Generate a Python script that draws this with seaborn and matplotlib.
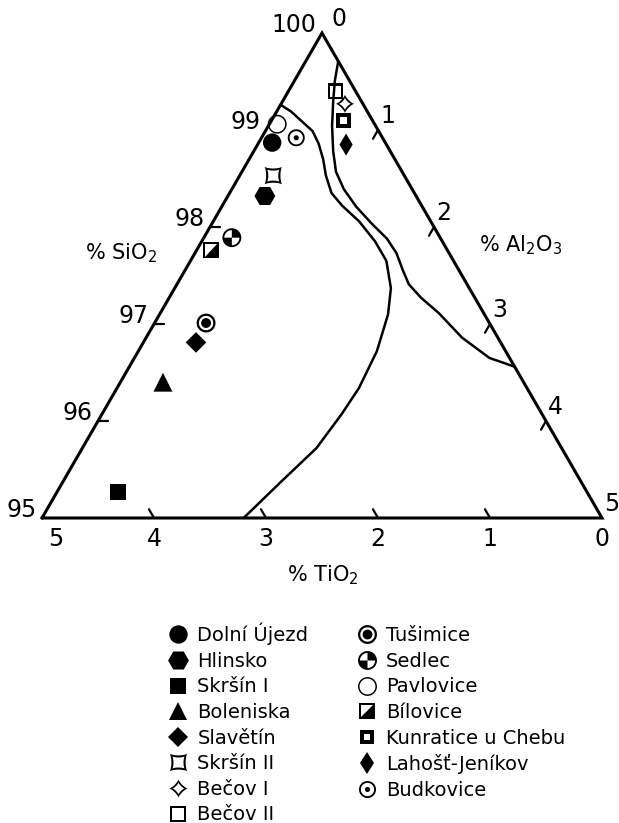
import numpy as np
import pandas as pd
import matplotlib
matplotlib.use("Agg")
from matplotlib import pyplot as plt
from matplotlib.path import Path
import seaborn as sns

# sample compositions (wt. %)
localities = ["Dolní Újezd", "Hlinsko", "Skršín I", "Boleniska", "Slavětín",
              "Skršín II", "Bečov I", "Bečov II", "Tušimice", "Sedlec",
              "Pavlovice", "Bílovice", "Kunratice u Chebu", "Lahošť-Jeníkov",
              "Budkovice"]
sio2 = [98.87, 98.32, 95.27, 96.39, 96.80, 98.53, 99.27, 99.40, 97.01, 97.89,
        99.06, 97.75, 99.09, 98.86, 98.92]
tio2 = [1.01, 1.35, 4.19, 3.22, 2.72, 1.17, 0.16, 0.18, 2.53, 1.86,
        0.87, 2.11, 0.26, 0.36, 0.77]
al2o3 = [0.12, 0.33, 0.54, 0.38, 0.47, 0.30, 0.57, 0.42, 0.46, 0.25,
         0.07, 0.13, 0.64, 0.79, 0.31]

# field boundaries (TiO2 / Al2O3 in %, SiO2 is the rest)
field_a_tio2 = [0.74, 0.68, 0.64, 0.59, 0.60, 0.64, 0.70, 0.74, 0.71, 0.64,
                0.60, 0.60, 0.70, 0.86, 1.15, 1.50, 1.79, 2.19, 2.67, 3.20]
field_a_al2o3 = [0.00, 0.13, 0.26, 0.42, 0.54, 0.66, 0.77, 0.91, 1.07, 1.30,
                 1.55, 1.75, 1.93, 2.04, 2.13, 2.16, 2.14, 2.09, 1.95, 1.80]
field_b_tio2 = [0.00, 0.13, 0.25, 0.39, 0.51, 0.59, 0.61, 0.59, 0.54, 0.48,
                0.47, 0.50, 0.52, 0.48, 0.40, 0.32, 0.18, 0.00]
field_b_al2o3 = [0.29, 0.36, 0.45, 0.57, 0.71, 0.84, 1.00, 1.20, 1.42, 1.64,
                 1.80, 1.94, 2.07, 2.25, 2.49, 2.82, 3.17, 3.44]

sio2_ticks = [100, 99, 98, 97, 96, 95]
tio2_ticks = [5, 4, 3, 2, 1, 0]
al2o3_ticks = [0, 1, 2, 3, 4, 5]

SPAN = 5.0  # the diagram shows 95-100 % SiO2


def tern(ti, al):
    """TiO2 / Al2O3 (%) -> x, y in the triangle (bottom-left = 5 % TiO2)."""
    ti = np.asarray(ti, float) / SPAN
    al = np.asarray(al, float) / SPAN
    s = 1 - ti - al
    return al + s / 2, s * np.sqrt(3) / 2


# ---- marker shapes -------------------------------------------------------
def loop(v):
    v = np.asarray(v)
    return Path(np.vstack([v, v[:1]]), closed=True)


def circle(r, rev=False):
    t = np.linspace(0, 2 * np.pi, 73)[:-1]
    if rev:
        t = t[::-1]
    return loop(np.column_stack([r * np.cos(t), r * np.sin(t)]))


def square(h, rev=False):
    v = np.array([[-h, -h], [h, -h], [h, h], [-h, h]])
    return loop(v[::-1] if rev else v)


def star(p, k, rot=0.0, rev=False):
    t = np.linspace(0, 2 * np.pi, 145)[:-1]
    if rev:
        t = t[::-1]
    x = np.sign(np.cos(t)) * np.abs(np.cos(t)) ** p * k
    y = np.sign(np.sin(t)) * np.abs(np.sin(t)) ** p * k
    c, s = np.cos(rot), np.sin(rot)
    return loop(np.column_stack([c * x - s * y, s * x + c * y]))


def wedge(r, a0, a1):
    t = np.radians(np.linspace(a0, a1, 19))
    return loop(np.vstack([[0, 0], np.column_stack([r * np.cos(t), r * np.sin(t)])]))


cp = Path.make_compound_path
markers = {
    "Dolní Újezd": "o",
    "Hlinsko": "H",
    "Skršín I": "s",
    "Boleniska": "^",
    "Slavětín": "D",
    "Skršín II": cp(star(2.6, 1.0, np.pi / 4), star(2.6, 0.7, np.pi / 4, rev=True)),
    "Bečov I": cp(star(2.6, 1.0), star(2.6, 0.66, rev=True)),
    "Bečov II": cp(square(1.0), square(0.72, rev=True)),
    "Tušimice": cp(circle(1.0), circle(0.76, rev=True), circle(0.52)),
    "Sedlec": cp(circle(1.0), circle(0.8, rev=True), wedge(0.8, 0, 90), wedge(0.8, 180, 270)),
    "Pavlovice": cp(circle(1.0), circle(0.84, rev=True)),
    "Bílovice": cp(square(1.0), square(0.8, rev=True),
                   loop([[-0.8, -0.8], [0.8, -0.8], [0.8, 0.8]])),
    "Kunratice u Chebu": cp(square(1.0), square(0.45, rev=True)),
    "Lahošť-Jeníkov": "d",
    "Budkovice": cp(circle(1.0), circle(0.78, rev=True), circle(0.3)),
}
sizes = {
    "Dolní Újezd": 175, "Hlinsko": 225, "Skršín I": 130, "Boleniska": 185,
    "Slavětín": 110, "Skršín II": 160, "Bečov I": 175, "Bečov II": 130,
    "Tušimice": 185, "Sedlec": 185, "Pavlovice": 185, "Bílovice": 130,
    "Kunratice u Chebu": 110, "Lahošť-Jeníkov": 125, "Budkovice": 150,
}
palette = {name: "black" for name in localities}

# ---- data frame ------------------------------------------------------------
px, py = tern(tio2, al2o3)
df = pd.DataFrame({"locality": localities, "x": px, "y": py,
                   "SiO2": sio2, "TiO2": tio2, "Al2O3": al2o3})

sns.set_style("white")
plt.rcParams["font.family"] = ["DejaVu Sans"]
plt.rcParams["mathtext.default"] = "regular"
plt.rcParams["text.color"] = "black"

fig = plt.figure(figsize=(6.19, 8.23), dpi=100)
ax = fig.add_axes([0, 0, 1, 1])
# 560 px per unit, triangle bottom-left at pixel (42, 518)
XLIM = (-42 / 560, (619 - 42) / 560)
YLIM = (-(823 - 518) / 560, 518 / 560)
ax.axis("off")

# frame
fx, fy = tern([5, 0, 0, 5], [0, 5, 0, 0])
ax.plot(fx, fy, color="black", lw=2.2, solid_joinstyle="miter", zorder=2)

# field boundaries
for ti, al in [(field_a_tio2, field_a_al2o3), (field_b_tio2, field_b_al2o3)]:
    cx, cy = tern(ti, al)
    ax.plot(cx, cy, color="black", lw=1.8, zorder=2)

# ticks
tl = 0.018
for v in [96, 97, 98]:
    x0, y0 = tern(100 - v, 0)
    ax.plot([x0, x0 + tl], [y0, y0], color="black", lw=1.6)
for v in [4, 3, 2, 1]:
    x0, y0 = tern(v, SPAN - v)
    ax.plot([x0, x0 - tl * 0.5], [y0, y0 + tl * 0.866], color="black", lw=1.6)
for v in [1, 2, 3, 4]:
    x0, y0 = tern(0, v)
    ax.plot([x0, x0 - tl * 0.5], [y0, y0 - tl * 0.866], color="black", lw=1.6)

# tick labels
tick_fs = 17
for v in sio2_ticks:
    x0, y0 = tern(100 - v, 0)
    ax.annotate(str(v), (x0, y0), xytext=(-4, 6), textcoords="offset points",
                ha="right", va="center", fontsize=tick_fs)
for v in al2o3_ticks:
    x0, y0 = tern(0, v)
    dx = 12 if v == 0 else 7
    ax.annotate(str(v), (x0, y0), xytext=(dx, 10), textcoords="offset points",
                ha="center", va="center", fontsize=tick_fs)
for v in tio2_ticks:
    x0, y0 = tern(v, SPAN - v)
    dx = 10 if v == 5 else 0
    ax.annotate(str(v), (x0, y0), xytext=(dx, -15), textcoords="offset points",
                ha="center", va="center", fontsize=tick_fs)

# axis titles
ax.text(0.141, 0.473, "% SiO$_2$", ha="center", va="center", fontsize=15)
ax.text(0.855, 0.488, "% Al$_2$O$_3$", ha="center", va="center", fontsize=15)
ax.text(0.502, -0.102, "% TiO$_2$", ha="center", va="center", fontsize=15)

# samples
sns.scatterplot(data=df, x="x", y="y", hue="locality", style="locality",
                size="locality", palette=palette, markers=markers, sizes=sizes,
                hue_order=localities, style_order=localities, size_order=localities,
                linewidth=0, edgecolor="none", zorder=3, legend="full", ax=ax)

sns.move_legend(ax, "upper left", bbox_to_anchor=(153 / 619, 1 - 609 / 823),
                bbox_transform=fig.transFigure, ncol=2, title=None, frameon=False,
                fontsize=14, handlelength=1.2, handletextpad=0.38,
                columnspacing=2.4, labelspacing=0.34, borderpad=0.2)

ax.set_xlim(*XLIM)
ax.set_ylim(*YLIM)
fig.savefig("out.png", dpi=100)
